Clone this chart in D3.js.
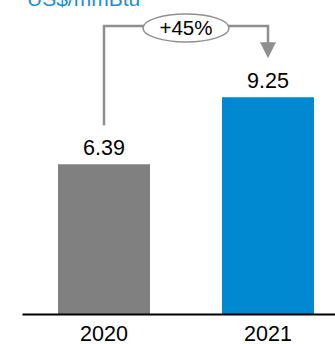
<!DOCTYPE html>
<html>
<head>
<meta charset="utf-8">
<script src="https://cdn.jsdelivr.net/npm/d3@7"></script>
<style>
  body { margin: 0; background: #fff; }
  text { font-family: "Liberation Sans", Arial, sans-serif; }
</style>
</head>
<body>
<svg id="chart"></svg>
<script>
// data
var years = ["2020", "2021"];
var prices = [6.39, 9.25];
var barColors = ["#808080", "#0088d1"];
var unitLabel = "US$/mmBtu";

var width = 335, height = 344;
var baseY = 314;

var svg = d3.select("#chart")
  .attr("width", width)
  .attr("height", height);

var x = d3.scaleBand()
  .domain(years)
  .range([22, 350])
  .paddingInner(72 / 164)
  .paddingOuter(36 / 164);

var y = d3.scaleLinear()
  .domain([0, 13.4])
  .range([baseY, 0]);

// unit title (cut at the top, as in the source)
svg.append("text")
  .attr("x", 27)
  .attr("y", 6)
  .attr("font-size", 21)
  .attr("fill", "#1a8fd8")
  .text(unitLabel);

// bars
svg.selectAll(".bar")
  .data(prices)
  .enter()
  .append("rect")
  .attr("class", "bar")
  .attr("x", function(d, i) { return x(years[i]); })
  .attr("y", function(d) { return y(d); })
  .attr("width", x.bandwidth())
  .attr("height", function(d) { return baseY - y(d); })
  .attr("fill", function(d, i) { return barColors[i]; });

// value labels
svg.selectAll(".val")
  .data(prices)
  .enter()
  .append("text")
  .attr("class", "val")
  .attr("x", function(d, i) { return x(years[i]) + x.bandwidth() / 2; })
  .attr("y", function(d) { return y(d) - 9; })
  .attr("text-anchor", "middle")
  .attr("font-size", 21.5)
  .attr("fill", "#000")
  .text(function(d) { return d3.format(".2f")(d); });

// x axis
var xAxis = svg.append("g")
  .attr("transform", "translate(0," + baseY + ")")
  .call(d3.axisBottom(x).tickSize(0).tickPadding(12));
xAxis.select(".domain").attr("stroke", "#000").attr("stroke-width", 2);
xAxis.selectAll("text")
  .attr("font-size", 21.5)
  .attr("fill", "#000")
  .style("font-family", '"Liberation Sans", Arial, sans-serif');

// growth bracket
var cx0 = x(years[0]) + x.bandwidth() / 2;
var cx1 = x(years[1]) + x.bandwidth() / 2;
var topY = 26;
var gap = 39;
var arrowTip = y(prices[1]) - gap;
var lineColor = "#8f8f8f";

svg.append("path")
  .attr("d", "M" + cx0 + "," + (y(prices[0]) - gap) + "V" + topY + "H" + cx1 + "V" + (arrowTip - 15))
  .attr("fill", "none")
  .attr("stroke", lineColor)
  .attr("stroke-width", 2.5);

svg.append("path")
  .attr("d", "M" + (cx1 - 8) + "," + (arrowTip - 16) + "L" + (cx1 + 8) + "," + (arrowTip - 16) + "L" + cx1 + "," + arrowTip + "Z")
  .attr("fill", lineColor);

var mid = (cx0 + cx1) / 2;
svg.append("ellipse")
  .attr("cx", mid)
  .attr("cy", 28)
  .attr("rx", 43)
  .attr("ry", 14)
  .attr("fill", "#fff")
  .attr("stroke", lineColor)
  .attr("stroke-width", 1.5);

var growth = Math.round((prices[1] / prices[0] - 1) * 100);
svg.append("text")
  .attr("x", mid)
  .attr("y", 35)
  .attr("text-anchor", "middle")
  .attr("font-size", 20.5)
  .attr("fill", "#000")
  .text("+" + growth + "%");
</script>
</body>
</html>
